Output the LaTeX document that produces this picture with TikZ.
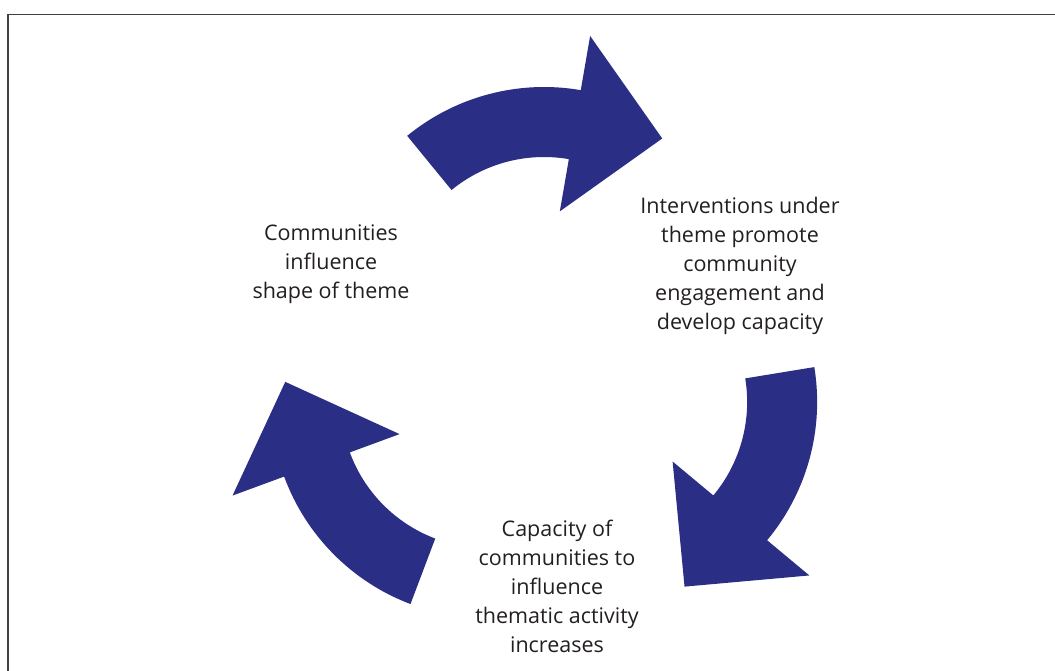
\documentclass[tikz,border=0pt]{standalone}
\usepackage{fontspec}
\setmainfont{Open Sans}
\usetikzlibrary{positioning}
\definecolor{cycleblue}{RGB}{42,46,132}
\definecolor{textgrey}{RGB}{35,31,32}

\begin{document}
\begin{tikzpicture}[x=1pt, y=1pt,
    stage/.style={align=center, font=\fontsize{21.5}{29}\selectfont, text=textgrey, inner sep=0pt}]
    \useasboundingbox (0,0) rectangle (1055,671);

    % Frame
    \draw[line width=1.5pt, black!75] (8,0) -- (8,656.5) -- (1055,656.5);

    % Centre of the cycle
    \coordinate (O) at (544,302);

    % Curved arrows
    \def\rout{216}
    \def\rin{146}
    \foreach \k in {0,1,2} {
        \begin{scope}[shift={(O)}, rotate=-120*\k, shift={(0,66)}]
            \fill[cycleblue] (129.3:\rout) arc[start angle=129.3, end angle=80.2, radius=\rout]
                -- (80.2:271) -- (54.3:202.6) -- (80.2:93) -- (80.2:\rin)
                arc[start angle=80.2, end angle=129.3, radius=\rin] -- cycle;
        \end{scope}
    }

    % Stages
    \node[stage] (shape) at (331,407) {Communities\\influence\\shape of theme};
    \node[stage] (engage) at (740,405) {Interventions under\\theme promote\\community\\engagement and\\develop capacity};
    \node[stage] (capacity) at (557,85) {Capacity of\\communities to\\influence\\thematic activity\\increases};
\end{tikzpicture}
\end{document}
